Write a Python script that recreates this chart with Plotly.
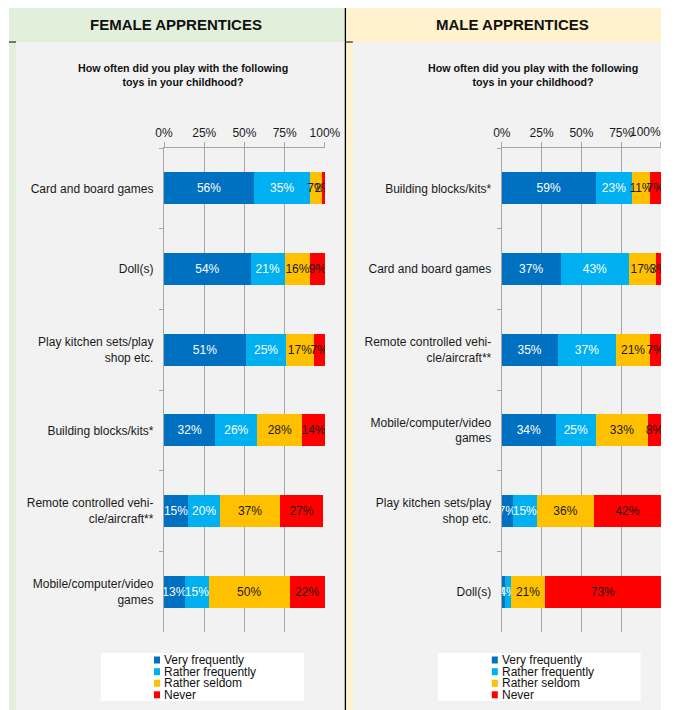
import plotly.graph_objects as go

W, H = 677, 710

# ---- data -------------------------------------------------------------
series_names = ["Very frequently", "Rather frequently", "Rather seldom", "Never"]
series_colors = ["#0070C0", "#00B0F0", "#FFC000", "#FF0000"]
label_colors = ["#FFFFFF", "#FFFFFF", "#1A1A1A", "#1A1A1A"]

female_categories = [
    "Card and board games",
    "Doll(s)",
    "Play kitchen sets/play<br>shop etc.",
    "Building blocks/kits*",
    "Remote controlled vehi-<br>cle/aircraft**",
    "Mobile/computer/video<br>games",
]
female_very_freq = [56, 54, 51, 32, 15, 13]
female_rather_freq = [35, 21, 25, 26, 20, 15]
female_rather_seldom = [7, 16, 17, 28, 37, 50]
female_never = [2, 9, 7, 14, 27, 22]

male_categories = [
    "Building blocks/kits*",
    "Card and board games",
    "Remote controlled vehi-<br>cle/aircraft**",
    "Mobile/computer/video<br>games",
    "Play kitchen sets/play<br>shop etc.",
    "Doll(s)",
]
male_very_freq = [59, 37, 35, 34, 7, 2]
male_rather_freq = [23, 43, 37, 25, 15, 4]
male_rather_seldom = [11, 17, 21, 33, 36, 21]
male_never = [7, 3, 7, 8, 42, 73]

tick_values = [0, 25, 50, 75, 100]
tick_labels = ["0%", "25%", "50%", "75%", "100%"]

panel_titles = ["FEMALE APPRENTICES", "MALE APPRENTICES"]
question = "How often did you play with the following<br>toys in your childhood?"

female_series = [female_very_freq, female_rather_freq, female_rather_seldom, female_never]
male_series = [male_very_freq, male_rather_freq, male_rather_seldom, male_never]

FONT = "Liberation Sans, Arial, sans-serif"
GRID = "#A6A6A6"

# horizontal layout grid: pixel column -> paper fraction
X0, XW = 7.9, 652.4


def px(x):
    return min(1.0, max(0.0, (x - X0) / XW))


def py(y):
    return 1 - y / H


fig = go.Figure()

for axis_id, cats, series in [("", female_categories, female_series),
                              ("2", male_categories, male_series)]:
    for name, color, tcolor, vals in zip(series_names, series_colors, label_colors, series):
        fig.add_trace(go.Bar(
            orientation="h",
            x=vals,
            y=cats,
            name=name,
            marker=dict(color=color, line=dict(width=0)),
            text=[f"{v}%" for v in vals],
            textposition="inside",
            insidetextanchor="middle",
            textangle=0,
            textfont=dict(family=FONT, size=12, color=tcolor),
            xaxis="x" + axis_id,
            yaxis="y" + axis_id,
            showlegend=False,
            hoverinfo="skip",
        ))

y_domain = [py(632), py(148)]


def x_axis(domain, anchor, ticktext):
    return dict(
        domain=domain, anchor=anchor, range=[0, 100], side="top",
        tickvals=tick_values, ticktext=ticktext,
        tickfont=dict(family=FONT, size=12, color="#1A1A1A"),
        showgrid=True, gridcolor=GRID, gridwidth=1.3,
        showline=True, linecolor=GRID, linewidth=1.3,
        ticks="outside", ticklen=5, tickcolor=GRID, tickwidth=1.3,
        zeroline=False, fixedrange=True,
    )


def y_axis(anchor):
    return dict(
        domain=y_domain, anchor=anchor, type="category", autorange="reversed",
        tickfont=dict(family=FONT, size=12, color="#1A1A1A"),
        showline=True, linecolor=GRID, linewidth=1.3,
        ticks="outside", tickson="boundaries", ticklen=4, tickcolor=GRID,
        ticklabelstandoff=7,
        showgrid=False, zeroline=False, fixedrange=True,
    )


# the right-hand "100%" sits at the canvas edge; it is drawn as an
# annotation anchored on the axis value so it stays fully inside
right_ticktext = tick_labels[:-1] + [""]

shapes = []
annotations = []


def rect(x0, y0, x1, y1, color):
    shapes.append(dict(type="rect", xref="paper", yref="paper",
                       x0=px(x0), x1=px(x1), y0=py(y1), y1=py(y0),
                       fillcolor=color, line=dict(width=0), layer="below"))


# panel backgrounds
rect(7, 8, 344.5, 42, "#E2EFDA")
rect(7, 42, 15, 710, "#E2EFDA")
rect(15, 42, 344.5, 710, "#F2F2F2")
rect(344.5, 8, 677, 42, "#FFF2CC")
rect(344.5, 42, 352, 710, "#FFF2CC")
rect(352, 42, 677, 710, "#F2F2F2")

# separators
shapes.append(dict(type="line", xref="paper", yref="paper",
                   x0=px(344.5), x1=px(344.5), y0=py(710), y1=py(8),
                   line=dict(color="#000000", width=1.3)))
for a, b in [(7, 15), (344.5, 352)]:
    shapes.append(dict(type="line", xref="paper", yref="paper",
                       x0=px(a), x1=px(b), y0=py(42), y1=py(42),
                       line=dict(color="#000000", width=1)))

# panel headers and questions
for title, cx, qx in [(panel_titles[0], 175.5, 182.5), (panel_titles[1], 512, 532.5)]:
    annotations.append(dict(text=f"<b>{title}</b>", x=px(cx), y=py(25),
                            xref="paper", yref="paper", showarrow=False,
                            xanchor="center", yanchor="middle",
                            font=dict(family=FONT, size=15, color="#111111")))
    annotations.append(dict(text=f"<b>{question}</b>", x=px(qx), y=py(75),
                            xref="paper", yref="paper", showarrow=False,
                            xanchor="center", yanchor="middle", align="center",
                            font=dict(family=FONT, size=10.7, color="#111111")))

# right axis end label
annotations.append(dict(text=tick_labels[-1], x=tick_values[-1], xref="x2",
                        y=py(132), yref="paper", showarrow=False,
                        xanchor="right", yanchor="middle", xshift=1.5,
                        borderpad=0,
                        font=dict(family=FONT, size=12, color="#1A1A1A")))

# legends
legend_rows = [660, 671.7, 683.3, 694.8]
for box_x0, box_x1, mark_x in [(100, 303, 153), (437, 640, 491)]:
    rect(box_x0, 653, box_x1, 701, "#FFFFFF")
    for name, color, ry in zip(series_names, series_colors, legend_rows):
        shapes.append(dict(type="rect", xref="paper", yref="paper",
                           x0=px(mark_x), x1=px(mark_x + 6),
                           y0=py(ry + 3.5), y1=py(ry - 3.5),
                           fillcolor=color, line=dict(width=0)))
        annotations.append(dict(text=name, x=px(mark_x + 8), y=py(ry),
                                xref="paper", yref="paper", showarrow=False,
                                xanchor="left", yanchor="middle",
                                font=dict(family=FONT, size=12, color="#111111")))

fig.update_layout(
    width=W, height=H,
    margin=dict(l=0, r=0, t=0, b=0),
    paper_bgcolor="#FFFFFF",
    plot_bgcolor="rgba(0,0,0,0)",
    barmode="stack",
    bargap=0.6,
    showlegend=False,
    uniformtext=dict(minsize=12, mode="show"),
    xaxis=x_axis([px(163), px(324)], "y", tick_labels),
    yaxis=y_axis("x"),
    xaxis2=x_axis([px(501), px(660.5)], "y2", right_ticktext),
    yaxis2=y_axis("x2"),
    shapes=shapes,
    annotations=annotations,
    font=dict(family=FONT),
)

fig.write_html("out.html")
